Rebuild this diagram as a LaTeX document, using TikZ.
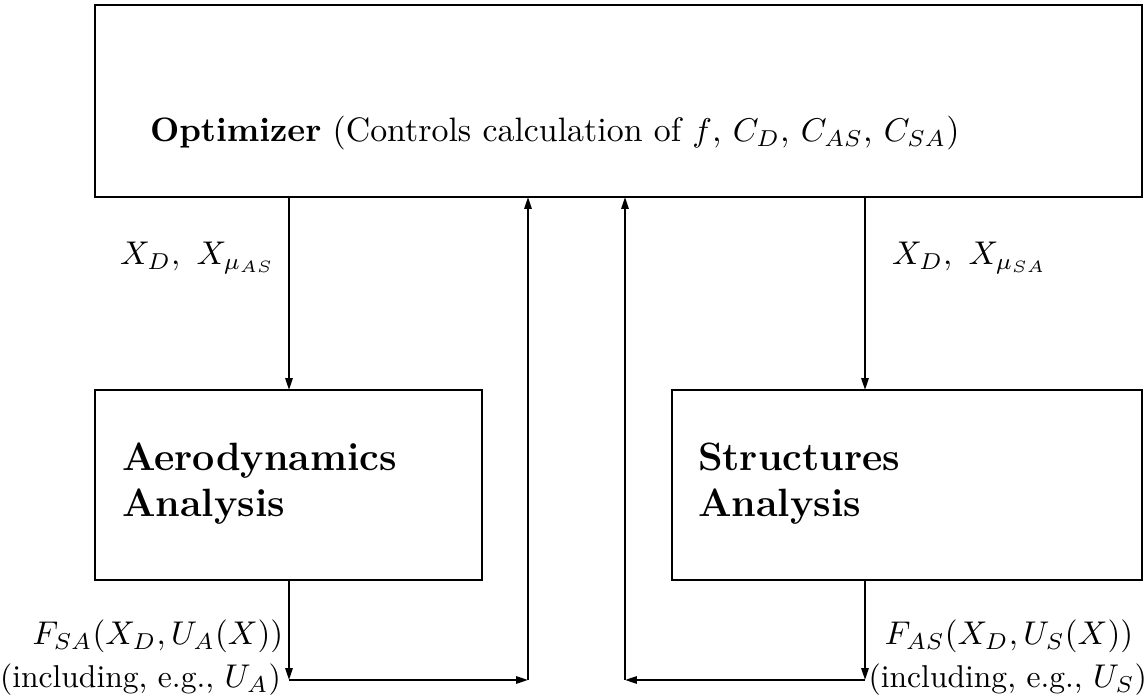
\documentclass[tikz,border=0pt]{standalone}
\usetikzlibrary{arrows.meta}
\begin{document}
\begin{tikzpicture}[x=0.304pt,y=-0.304pt,
  box/.style={draw,line width=0.9pt},
  flow/.style={line width=0.6pt,-{Triangle[length=3.6pt,width=2.2pt]}},
  lbl/.style={inner sep=0pt,outer sep=0pt},
  note/.style={lbl,font=\fontsize{9.6}{12}\selectfont}]
\useasboundingbox (0,0) rectangle (1148,696);
% blocks
\draw[box] (95,5) rectangle (1142,197);
\draw[box] (95,390) rectangle (482,580);
\draw[box] (672,390) rectangle (1142,580);
\node[lbl,anchor=west] (opttext) at (150,133)
  {\fontsize{10.3}{13}\selectfont\textbf{Optimizer} (Controls calculation of $f$, $C_D$, $C_{AS}$, $C_{SA}$)};
\node[lbl,anchor=west,align=left,font=\large\bfseries] (aero) at (122,484)
  {Aerodynamics\\Analysis};
\node[lbl,anchor=west,align=left,font=\large\bfseries] (struct) at (698,484)
  {Structures\\Analysis};
% connection points
\coordinate (oa) at (289,197);
\coordinate (ai) at (289,390);
\coordinate (ao) at (289,580);
\coordinate (ac) at (289,680);
\coordinate (ar) at (528,680);
\coordinate (au) at (528,197);
\coordinate (os) at (865,197);
\coordinate (si) at (865,390);
\coordinate (so) at (865,580);
\coordinate (sc) at (865,680);
\coordinate (sl) at (625,680);
\coordinate (su) at (625,197);
% design variables down to the analyses
\draw[flow] (oa) -- (ai);
\draw[flow] (os) -- (si);
% analysis outputs back to the optimizer
\draw[flow] (ao) -- (ac);
\draw[flow] (ac) -- (ar);
\draw[flow] (ar) -- (au);
\draw[flow] (so) -- (sc);
\draw[flow] (sc) -- (sl);
\draw[flow] (sl) -- (su);
% labels
\node[lbl,anchor=west] (xa) at (120,258) {$X_D,\ X_{\mu_{AS}}$};
\node[lbl,anchor=west] (xs) at (892,258) {$X_D,\ X_{\mu_{SA}}$};
\node[lbl] (fa) at (158,636) {$F_{SA}(X_D,U_A(X))$};
\node[note,anchor=west] (ia) at (0,680) {(including, e.g., $U_A$)};
\node[lbl] (fs) at (1009,636) {$F_{AS}(X_D,U_S(X))$};
\node[note,anchor=east] (is) at (1147,680) {(including, e.g., $U_S$)};
\end{tikzpicture}
\end{document}
